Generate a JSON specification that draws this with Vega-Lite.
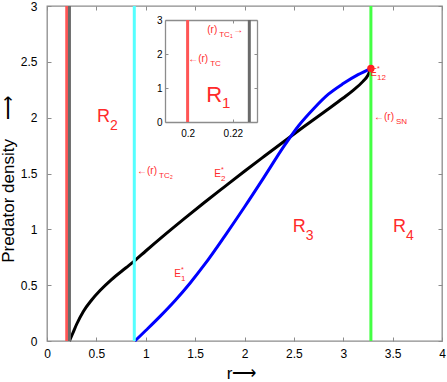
{
  "$schema": "https://vega.github.io/schema/vega-lite/v6.json",
  "width": 395,
  "height": 335,
  "autosize": "none",
  "padding": {"left": 47, "top": 6, "right": 5, "bottom": 41},
  "config": {
    "font": "Liberation Sans",
    "view": {"stroke": "#8c8c8c", "strokeWidth": 1.3},
    "axis": {"grid": false, "labelColor": "#000", "titleColor": "#000", "tickColor": "#8c8c8c", "domainColor": "#8c8c8c", "domainWidth": 1.3, "titleFontWeight": "normal", "labelFont": "Liberation Sans", "titleFont": "Liberation Sans", "labelFlush": false, "labelOverlap": false}
  },
  "datasets": {
    "black": [
      {"r": 0.2273, "p": 0}, {"r": 0.26, "p": 0.067}, {"r": 0.3, "p": 0.15}, {"r": 0.368, "p": 0.265}, {"r": 0.45, "p": 0.365}, {"r": 0.537, "p": 0.452}, {"r": 0.65, "p": 0.548}, {"r": 0.8, "p": 0.656}, {"r": 0.884, "p": 0.716}, {"r": 1.0, "p": 0.806}, {"r": 1.2, "p": 0.957}, {"r": 1.4, "p": 1.103}, {"r": 1.6, "p": 1.245}, {"r": 1.8, "p": 1.383}, {"r": 2.0, "p": 1.52}, {"r": 2.2, "p": 1.654}, {"r": 2.42, "p": 1.8}, {"r": 2.6, "p": 1.918}, {"r": 2.8, "p": 2.047}, {"r": 3.0, "p": 2.176}, {"r": 3.1, "p": 2.245}, {"r": 3.2, "p": 2.325}, {"r": 3.25, "p": 2.38}, {"r": 3.28, "p": 2.44}
    ],
    "blue": [
      {"r": 0.89, "p": 0}, {"r": 1.0, "p": 0.094}, {"r": 1.15, "p": 0.225}, {"r": 1.3, "p": 0.365}, {"r": 1.45, "p": 0.52}, {"r": 1.6, "p": 0.69}, {"r": 1.8, "p": 0.94}, {"r": 2.0, "p": 1.2}, {"r": 2.2, "p": 1.47}, {"r": 2.4, "p": 1.745}, {"r": 2.55, "p": 1.93}, {"r": 2.7, "p": 2.08}, {"r": 2.85, "p": 2.21}, {"r": 3.0, "p": 2.305}, {"r": 3.15, "p": 2.385}, {"r": 3.28, "p": 2.44}
    ],
    "vlines": [
      {"r": 0.2, "p": 0, "p2": 3, "line": "TC"},
      {"r": 0.2273, "p": 0, "p2": 3, "line": "TC1"},
      {"r": 0.884, "p": 0, "p2": 3, "line": "TC2"},
      {"r": 3.28, "p": 0, "p2": 3, "line": "SN"}
    ],
    "pt": [{"r": 3.28, "p": 2.44}],
    "lab": [
      {"r": 0.638, "p": 1.961, "t": "R", "s": "2", "k": "R"},
      {"r": 2.62, "p": 0.973, "t": "R", "s": "3", "k": "R"},
      {"r": 3.635, "p": 0.973, "t": "R", "s": "4", "k": "R"},
      {"r": 1.357, "p": 0.573, "t": "E", "s": "1", "k": "E"},
      {"r": 1.762, "p": 1.468, "t": "E", "s": "2", "k": "E"},
      {"r": 3.342, "p": 2.377, "t": "E", "s": "12", "k": "E"},
      {"r": 1.114, "p": 1.495, "t": "←(r)", "s": "TC₂", "k": "T"},
      {"r": 3.514, "p": 1.979, "t": "←(r)", "s": "SN", "k": "T"}
    ],
    "ilines": [
      {"r": 0.2, "p": 0, "p2": 3, "line": "TC"},
      {"r": 0.2273, "p": 0, "p2": 3, "line": "TC1"}
    ],
    "ilab": [
      {"r": 0.2131, "p": 2.62, "t": "(r)", "s": "TC₁", "k": "T"},
      {"r": 0.2246, "p": 2.62, "t": "→", "s": "", "k": "T"},
      {"r": 0.2091, "p": 1.765, "t": "←(r)", "s": "TC", "k": "T"},
      {"r": 0.21527, "p": 0.597, "t": "R", "s": "1", "k": "R"}
    ],
    "frame": [{"r": 0, "p": 0}, {"r": 4, "p": 3}],
    "iframe": [{"r": 0.19, "p": 0}, {"r": 0.2307, "p": 3}]
  },
  "layer": [
    {
      "encoding": {
        "x": {"field": "r", "type": "quantitative", "scale": {"domain": [0, 4], "nice": false, "zero": false},
          "axis": {"orient": "bottom", "values": [0, 0.5, 1, 1.5, 2, 2.5, 3, 3.5, 4], "format": "~g", "labelFontSize": 12, "tickSize": -4, "labelPadding": 11, "domain": false, "title": "r⟶", "titleFontSize": 17, "titleX": 194, "titleY": 37, "titleBaseline": "alphabetic"}},
        "y": {"field": "p", "type": "quantitative", "scale": {"domain": [0, 3], "nice": false, "zero": false},
          "axis": {"orient": "left", "values": [0, 0.5, 1, 1.5, 2, 2.5, 3], "format": "~g", "labelFontSize": 12, "tickSize": -4, "labelPadding": 14, "domain": false, "title": "Predator density\u00a0\u00a0\u00a0\u00a0⟶", "titleFontSize": 17, "titleX": -34, "titleY": 173, "titleBaseline": "alphabetic", "titleAngle": -90}}
      },
      "layer": [
        {"data": {"name": "black"}, "mark": {"type": "line", "color": "#000000", "strokeWidth": 3, "interpolate": "monotone"}, "encoding": {}},
        {"data": {"name": "blue"}, "mark": {"type": "line", "color": "#0000ff", "strokeWidth": 3, "interpolate": "monotone"}, "encoding": {}},
        {"data": {"name": "vlines"}, "mark": {"type": "rule", "strokeWidth": 3},
          "encoding": {"y2": {"field": "p2"}, "color": {"field": "line", "type": "nominal", "scale": {"domain": ["TC", "TC1", "TC2", "SN"], "range": ["#ff5555", "#6a6a6a", "#55ffff", "#44ff44"]}, "legend": null}}},
        {"data": {"name": "pt"}, "mark": {"type": "point", "filled": true, "color": "#ff2020", "size": 55, "opacity": 1}, "encoding": {}},
        {"data": {"name": "lab"}, "transform": [{"filter": "datum.k == 'R'"}], "mark": {"type": "text", "fontSize": 18, "align": "right", "baseline": "alphabetic", "color": "#ff2a2a"}, "encoding": {"text": {"field": "t"}}},
        {"data": {"name": "lab"}, "transform": [{"filter": "datum.k == 'R'"}], "mark": {"type": "text", "fontSize": 14, "align": "left", "baseline": "alphabetic", "dy": 8, "color": "#ff2a2a"}, "encoding": {"text": {"field": "s"}}},
        {"data": {"name": "lab"}, "transform": [{"filter": "datum.k == 'E'"}], "mark": {"type": "text", "fontSize": 10, "align": "right", "baseline": "alphabetic", "color": "#ff2a2a"}, "encoding": {"text": {"field": "t"}}},
        {"data": {"name": "lab"}, "transform": [{"filter": "datum.k == 'E'"}], "mark": {"type": "text", "fontSize": 8, "align": "left", "baseline": "alphabetic", "dy": 4, "color": "#ff2a2a"}, "encoding": {"text": {"field": "s"}}},
        {"data": {"name": "lab"}, "transform": [{"filter": "datum.k == 'E'"}], "mark": {"type": "text", "text": "*", "fontSize": 7, "align": "left", "baseline": "alphabetic", "dy": -5, "color": "#ff2a2a"}},
        {"data": {"name": "lab"}, "transform": [{"filter": "datum.k == 'T'"}], "mark": {"type": "text", "fontSize": 10, "align": "right", "baseline": "alphabetic", "color": "#ff2a2a"}, "encoding": {"text": {"field": "t"}}},
        {"data": {"name": "lab"}, "transform": [{"filter": "datum.k == 'T'"}], "mark": {"type": "text", "fontSize": 8, "align": "left", "baseline": "alphabetic", "dx": 2, "dy": 4, "color": "#ff2a2a"}, "encoding": {"text": {"field": "s"}}}
      ]
    },
    {
      "data": {"name": "frame"},
      "mark": {"type": "point", "opacity": 0},
      "encoding": {
        "x": {"field": "r", "type": "quantitative", "scale": {"domain": [0, 4], "nice": false, "zero": false},
          "axis": {"orient": "top", "values": [0, 0.5, 1, 1.5, 2, 2.5, 3, 3.5, 4], "labels": false, "tickSize": -4, "domain": false, "title": null}},
        "y": {"field": "p", "type": "quantitative", "scale": {"domain": [0, 3], "nice": false, "zero": false},
          "axis": {"orient": "right", "values": [0, 0.5, 1, 1.5, 2, 2.5, 3], "labels": false, "tickSize": -4, "domain": false, "title": null}}
      }
    },
    {
      "encoding": {
        "x": {"field": "r", "type": "quantitative", "scale": {"domain": [0.19, 0.2307], "range": [118, 210], "nice": false, "zero": false},
          "axis": {"orient": "bottom", "offset": -219, "values": [0.2, 0.22], "format": "~g", "labelFontSize": 10, "tickSize": -3, "labelPadding": 9, "domain": true, "title": null}},
        "y": {"field": "p", "type": "quantitative", "scale": {"domain": [0, 3], "range": [116, 14], "nice": false, "zero": false},
          "axis": {"orient": "left", "offset": -118, "values": [0, 1, 2, 3], "format": "~g", "labelFontSize": 10, "tickSize": -3, "labelPadding": 6, "domain": true, "title": null}}
      },
      "layer": [
        {"data": {"name": "ilines"}, "mark": {"type": "rule", "strokeWidth": 3},
          "encoding": {"y2": {"field": "p2"}, "color": {"field": "line", "type": "nominal", "scale": {"domain": ["TC", "TC1", "TC2", "SN"], "range": ["#ff5555", "#6a6a6a", "#55ffff", "#44ff44"]}, "legend": null}}},
        {"data": {"name": "ilab"}, "transform": [{"filter": "datum.k == 'R'"}], "mark": {"type": "text", "fontSize": 22, "align": "right", "baseline": "alphabetic", "color": "#ff2a2a"}, "encoding": {"text": {"field": "t"}}},
        {"data": {"name": "ilab"}, "transform": [{"filter": "datum.k == 'R'"}], "mark": {"type": "text", "fontSize": 15, "align": "left", "baseline": "alphabetic", "dy": 6, "color": "#ff2a2a"}, "encoding": {"text": {"field": "s"}}},
        {"data": {"name": "ilab"}, "transform": [{"filter": "datum.k == 'T'"}], "mark": {"type": "text", "fontSize": 10, "align": "right", "baseline": "alphabetic", "color": "#ff2a2a"}, "encoding": {"text": {"field": "t"}}},
        {"data": {"name": "ilab"}, "transform": [{"filter": "datum.k == 'T'"}], "mark": {"type": "text", "fontSize": 8, "align": "left", "baseline": "alphabetic", "dx": 2, "dy": 4, "color": "#ff2a2a"}, "encoding": {"text": {"field": "s"}}}
      ]
    },
    {
      "data": {"name": "iframe"},
      "mark": {"type": "point", "opacity": 0},
      "encoding": {
        "x": {"field": "r", "type": "quantitative", "scale": {"domain": [0.19, 0.2307], "range": [118, 210], "nice": false, "zero": false},
          "axis": {"orient": "top", "offset": -14, "values": [0.2, 0.22], "labels": false, "tickSize": -3, "domain": true, "title": null}},
        "y": {"field": "p", "type": "quantitative", "scale": {"domain": [0, 3], "range": [116, 14], "nice": false, "zero": false},
          "axis": {"orient": "right", "offset": -185, "values": [0, 1, 2, 3], "labels": false, "tickSize": -3, "domain": true, "title": null}}
      }
    }
  ],
  "resolve": {"scale": {"x": "independent", "y": "independent", "color": "shared"}, "axis": {"x": "independent", "y": "independent"}}
}
